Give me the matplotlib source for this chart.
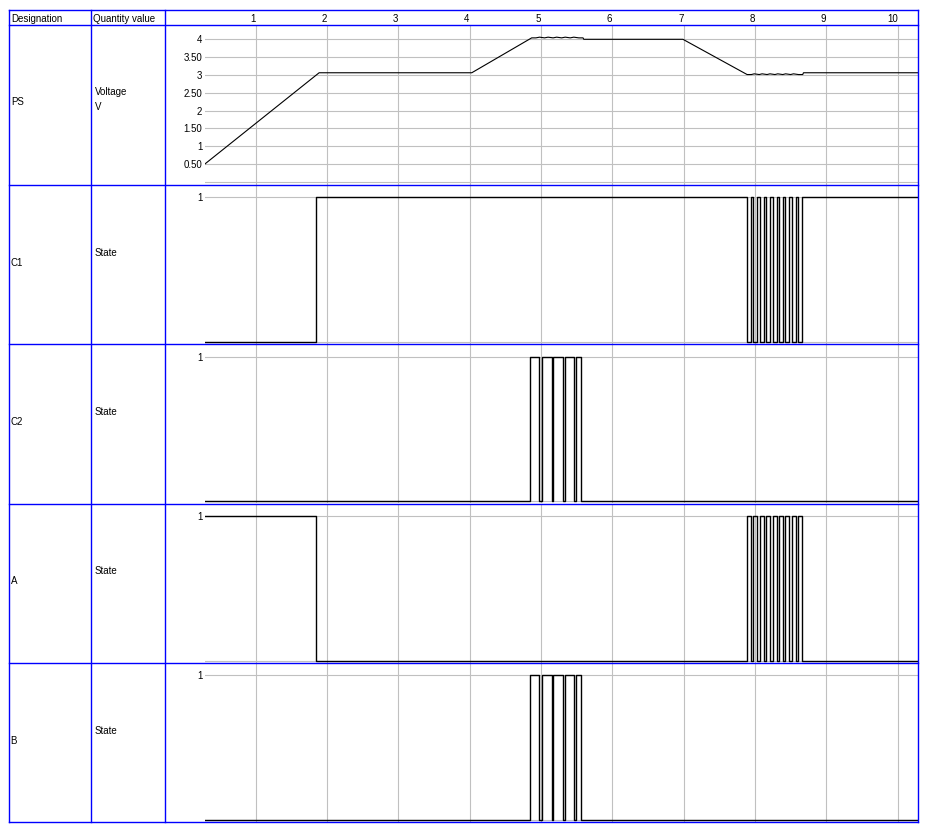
import matplotlib.pyplot as plt

plt.rcParams['font.family'] = ['Liberation Sans', 'DejaVu Sans']

# time range shown in the chart
t_start = 0.29
t_end = 10.29

# PS supply voltage (V)
ps_t = [0.29, 1.89, 4.03, 4.87, 4.93, 4.98, 5.05, 5.10, 5.17, 5.22, 5.29, 5.34,
        5.41, 5.46, 5.53, 5.59, 5.60, 6.99, 7.89, 7.95, 7.99, 8.06, 8.10, 8.17,
        8.21, 8.28, 8.32, 8.39, 8.43, 8.50, 8.54, 8.61, 8.67, 8.68, 10.29]
ps_v = [0.50, 3.06, 3.06, 4.04, 4.04, 4.06, 4.04, 4.06, 4.04, 4.06, 4.04, 4.06,
        4.04, 4.06, 4.04, 4.04, 4.00, 4.00, 3.01, 3.01, 3.03, 3.01, 3.03, 3.01,
        3.03, 3.01, 3.03, 3.01, 3.03, 3.01, 3.03, 3.01, 3.01, 3.06, 3.06]

# state signals: switching times and levels
c1_t = [0.29, 1.85, 7.89, 7.946, 7.979, 8.035, 8.068, 8.125, 8.158, 8.214, 8.247,
        8.303, 8.336, 8.393, 8.426, 8.482, 8.515, 8.572, 8.605, 8.661, 10.29]
c1_v = [0, 1, 0, 1, 0, 1, 0, 1, 0, 1, 0, 1, 0, 1, 0, 1, 0, 1, 0, 1, 1]

c2_t = [0.29, 4.852, 4.978, 5.020, 5.152, 5.175, 5.306, 5.343, 5.469, 5.497, 5.567, 10.29]
c2_v = [0, 1, 0, 1, 0, 1, 0, 1, 0, 1, 0, 0]

a_t = c1_t
a_v = [1, 0, 1, 0, 1, 0, 1, 0, 1, 0, 1, 0, 1, 0, 1, 0, 1, 0, 1, 0, 0]

b_t = c2_t
b_v = [0, 1, 0, 1, 0, 1, 0, 1, 0, 1, 0, 0]

designations = ['PS', 'C1', 'C2', 'A', 'B']
quantities = [['Voltage', 'V'], ['State'], ['State'], ['State'], ['State']]
time_ticks = [1, 2, 3, 4, 5, 6, 7, 8, 9, 10]
ps_ticks = [0, 0.5, 1, 1.5, 2, 2.5, 3, 3.5, 4]
ps_labels = ['', '0.50', '1', '1.50', '2', '2.50', '3', '3.50', '4']

W, H = 929, 835
fig = plt.figure(figsize=(W / 100, H / 100), dpi=100)

x_left, x_right = 205, 918.3
col1, col2, col3 = 9.3, 91.3, 165.3
top, head = 10.3, 25.3
row_h = 159.4
grid_c = '#c0c0c0'
blue = '#0000ff'
fs = 7


def px_axes(x0, y0, x1, y1):
    return fig.add_axes([x0 / W, 1 - y1 / H, (x1 - x0) / W, (y1 - y0) / H])


signals = [(ps_t, ps_v), (c1_t, c1_v), (c2_t, c2_v), (a_t, a_v), (b_t, b_v)]
for i, (tt, vv) in enumerate(signals):
    y0 = head + row_h * i
    ax = px_axes(x_left, y0, x_right, y0 + row_h)
    ax.set_xlim(t_start, t_end)
    if i == 0:
        ax.set_ylim(-0.084, 4.393)
        ax.plot(tt, vv, color='black', lw=0.8)
        ax.set_yticks(ps_ticks)
        ax.set_yticklabels(ps_labels)
    else:
        ax.set_ylim(-0.016, 1.087)
        ax.step(tt, vv, where='post', color='black', lw=1.0)
        ax.set_yticks([0, 1])
        ax.set_yticklabels(['', '1'])
    ax.set_xticks(time_ticks)
    ax.set_xticklabels([])
    ax.grid(True, color=grid_c, lw=0.8)
    ax.set_axisbelow(True)
    ax.tick_params(length=0, pad=2, labelsize=fs)
    for s in ax.spines.values():
        s.set_visible(False)

# time labels in the header row
hax = px_axes(x_left, top, x_right, head)
hax.set_xlim(t_start, t_end)
hax.set_ylim(0, 1)
hax.axis('off')
for t in time_ticks:
    hax.text(t, 0.45, str(t), ha='right', va='center', fontsize=fs)

# table frame and text
fr = fig.add_axes([0, 0, 1, 1])
fr.set_xlim(0, W)
fr.set_ylim(H, 0)
fr.axis('off')
bottom = head + row_h * 5
for k in range(6):
    y = head + row_h * k
    fr.plot([col1, x_right], [y, y], color=blue, lw=1.0)
fr.plot([col1, x_right], [top, top], color=blue, lw=1.0)
for x in [col1, col2, col3, x_right]:
    fr.plot([x, x], [top, bottom], color=blue, lw=1.0)

fr.text(11.5, 18.5, 'Designation', ha='left', va='center', fontsize=fs)
fr.text(93.5, 18.5, 'Quantity value', ha='left', va='center', fontsize=fs)
for i, name in enumerate(designations):
    y0 = head + row_h * i
    if i == 0:
        fr.text(11, y0 + 77, name, ha='left', va='center', fontsize=fs)
        fr.text(95, y0 + 66.5, quantities[i][0], ha='left', va='center', fontsize=fs)
        fr.text(95, y0 + 82, quantities[i][1], ha='left', va='center', fontsize=fs)
    else:
        fr.text(10.5, y0 + 78, name, ha='left', va='center', fontsize=fs)
        fr.text(95, y0 + 68, quantities[i][0], ha='left', va='center', fontsize=fs)

fig.savefig('out.png', dpi=100)
